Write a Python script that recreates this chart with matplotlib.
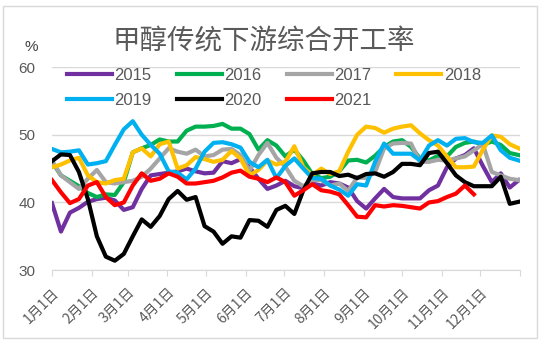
import numpy as np
import matplotlib
matplotlib.use('Agg')
import matplotlib.pyplot as plt
from matplotlib.patches import Rectangle

plt.rcParams['font.family'] = ['Liberation Sans', 'Noto Sans CJK SC', 'DejaVu Sans']

# weekly readings, one value per week from 1 Jan
y2015 = [39.9, 35.7, 38.5, 39.2, 40.1, 40.5, 40.7, 40.3, 38.9, 39.3, 42.0, 44.0, 44.2,
         44.4, 44.6, 45.0, 44.6, 44.3, 44.4, 46.1, 45.8, 46.4, 45.2, 43.5, 42.0, 42.5,
         43.2, 42.4, 42.1, 42.8, 42.5, 43.0, 42.8, 42.2, 40.2, 39.1, 40.6, 42.0, 40.8,
         40.6, 40.6, 40.6, 41.8, 42.5, 45.2, 46.5, 47.0, 48.0, 45.4, 43.0, 44.3, 42.2, 43.3]
y2016 = [46.0, 44.0, 43.2, 42.4, 41.4, 40.8, 41.2, 41.1, 43.0, 47.4, 48.0, 48.5, 49.3,
         49.0, 49.0, 50.6, 51.2, 51.2, 51.3, 51.6, 50.9, 50.9, 50.1, 47.8, 49.2, 48.4,
         46.8, 47.8, 46.2, 44.2, 43.6, 43.8, 44.6, 46.2, 46.3, 45.9, 46.9, 48.2, 49.0,
         49.2, 48.2, 46.5, 46.2, 46.9, 46.8, 48.2, 48.8, 49.0, 48.5, 49.0, 48.5, 47.3, 47.0]
y2017 = [46.2, 44.0, 43.0, 42.0, 43.5, 44.8, 43.0, 42.8, 43.0, 43.2, 43.8, 45.0, 46.5,
         48.0, 47.5, 47.2, 47.8, 46.8, 47.0, 47.8, 47.9, 47.0, 44.7, 47.0, 48.8, 46.6,
         45.3, 43.2, 42.4, 43.3, 43.3, 42.5, 42.8, 41.7, 43.7, 43.6, 44.5, 48.0, 48.7,
         48.8, 48.7, 46.0, 46.0, 46.3, 46.2, 46.5, 46.8, 47.7, 48.6, 44.5, 44.0, 43.5, 43.3]
y2018 = [45.2, 45.6, 46.2, 46.6, 44.0, 43.0, 42.8, 43.3, 43.5, 47.4, 48.0, 46.8, 48.6,
         49.0, 45.0, 45.5, 46.7, 46.4, 46.0, 46.3, 47.6, 46.5, 44.0, 44.8, 46.2, 45.6,
         46.0, 48.3, 45.2, 44.0, 45.0, 44.2, 44.6, 47.5, 50.0, 51.2, 51.0, 50.3, 50.9,
         51.2, 51.4, 50.2, 49.2, 48.4, 46.8, 45.2, 45.2, 45.3, 47.8, 49.9, 49.7, 48.6, 48.0]
y2019 = [47.9, 47.4, 47.5, 47.7, 45.6, 45.8, 46.1, 48.5, 50.8, 52.0, 50.0, 48.5, 47.2,
         44.6, 44.4, 43.4, 45.0, 47.5, 48.8, 48.9, 48.6, 48.1, 46.0, 45.2, 46.3, 43.6,
         45.4, 46.5, 45.0, 43.6, 43.5, 42.5, 41.9, 41.0, 42.7, 42.5, 46.0, 48.7, 47.2,
         47.2, 47.2, 46.2, 48.4, 49.2, 48.4, 49.4, 49.5, 48.9, 48.8, 49.9, 47.7, 46.6, 46.2]
y2020 = [46.1, 47.1, 47.0, 44.5, 40.5, 35.0, 32.0, 31.4, 32.4, 35.0, 37.5, 36.4, 38.0,
         40.5, 41.7, 40.4, 40.8, 36.5, 35.7, 33.9, 35.0, 34.8, 37.4, 37.3, 36.4, 38.9,
         39.5, 38.3, 41.8, 44.3, 44.5, 44.5, 43.9, 44.1, 43.6, 44.2, 44.3, 43.8, 44.5,
         45.7, 45.7, 45.5, 47.3, 47.5, 45.8, 44.0, 43.0, 42.4, 42.4, 42.4, 43.8, 39.8, 40.1]
y2021 = [43.3, 41.5, 39.9, 40.5, 42.5, 43.0, 40.8, 39.6, 40.0, 42.5, 44.3, 43.2, 43.5,
         44.3, 43.8, 42.8, 42.8, 43.0, 43.2, 43.7, 44.4, 44.7, 43.8, 43.5, 43.0, 43.7,
         43.0, 41.0, 41.8, 42.7, 41.8, 41.6, 41.2, 39.6, 37.9, 37.8, 39.6, 39.4, 39.6,
         39.5, 39.3, 39.1, 40.0, 40.2, 40.8, 41.3, 42.5, 41.2]

years = ['2015', '2016', '2017', '2018', '2019', '2020', '2021']
series = [y2015, y2016, y2017, y2018, y2019, y2020, y2021]
colors = ['#7030A0', '#00B050', '#A5A5A5', '#FFC000', '#00B0F0', '#000000', '#FF0000']

month_days = [0, 31, 59, 90, 120, 151, 181, 212, 243, 273, 304, 334]
month_labels = ['%d月1日' % m for m in range(1, 13)]

fig = plt.figure(figsize=(5.5, 3.42), dpi=100)
fig.patches.append(Rectangle((0.006, 0.012), 0.97, 0.97, transform=fig.transFigure,
                             fill=False, edgecolor='#d9d9d9', linewidth=1))
ax = fig.add_axes([0.0945, 0.21, 0.851, 0.594])

lines = []
for yr, vals, c in zip(years, series, colors):
    x = np.arange(len(vals)) * 7
    l, = ax.plot(x, vals, color=c, linewidth=3, label=yr, solid_joinstyle='round')
    lines.append(l)

ax.set_xlim(0, 365)
ax.set_ylim(30, 60)
ax.set_yticks([30, 40, 50, 60])
ax.yaxis.grid(True, color='#d9d9d9', linewidth=1)
ax.set_axisbelow(True)
for s in ['left', 'right', 'top']:
    ax.spines[s].set_visible(False)
ax.spines['bottom'].set_color('#d9d9d9')
ax.tick_params(axis='y', length=0, labelsize=11, labelcolor='#595959', pad=12)
ax.tick_params(axis='x', length=4, color='#d9d9d9', labelsize=10, labelcolor='#595959', pad=7)
ax.set_xticks(month_days + [365])
ax.set_xticklabels(month_labels + [''], rotation=45, ha='right', va='top',
                   rotation_mode='anchor', family=['Noto Sans CJK SC'])

fig.text(0.479, 0.878, '甲醇传统下游综合开工率', ha='center', va='center', fontsize=19.8,
         color='#595959', family=['Noto Sans CJK SC'])
fig.text(0.056, 0.863, '%', ha='center', va='center', fontsize=11, color='#404040')

# matplotlib fills legend columns first, so order handles to read row by row
order = [0, 4, 1, 5, 2, 6, 3]
fig.legend(handles=[lines[i] for i in order], loc='upper left', bbox_to_anchor=(0.122, 0.802),
           ncol=4, frameon=False, fontsize=12, handlelength=2.7, handletextpad=0.15,
           columnspacing=1.5, labelspacing=0.6, borderpad=0, borderaxespad=0,
           labelcolor='#595959')

fig.savefig('out.png', dpi=100)
